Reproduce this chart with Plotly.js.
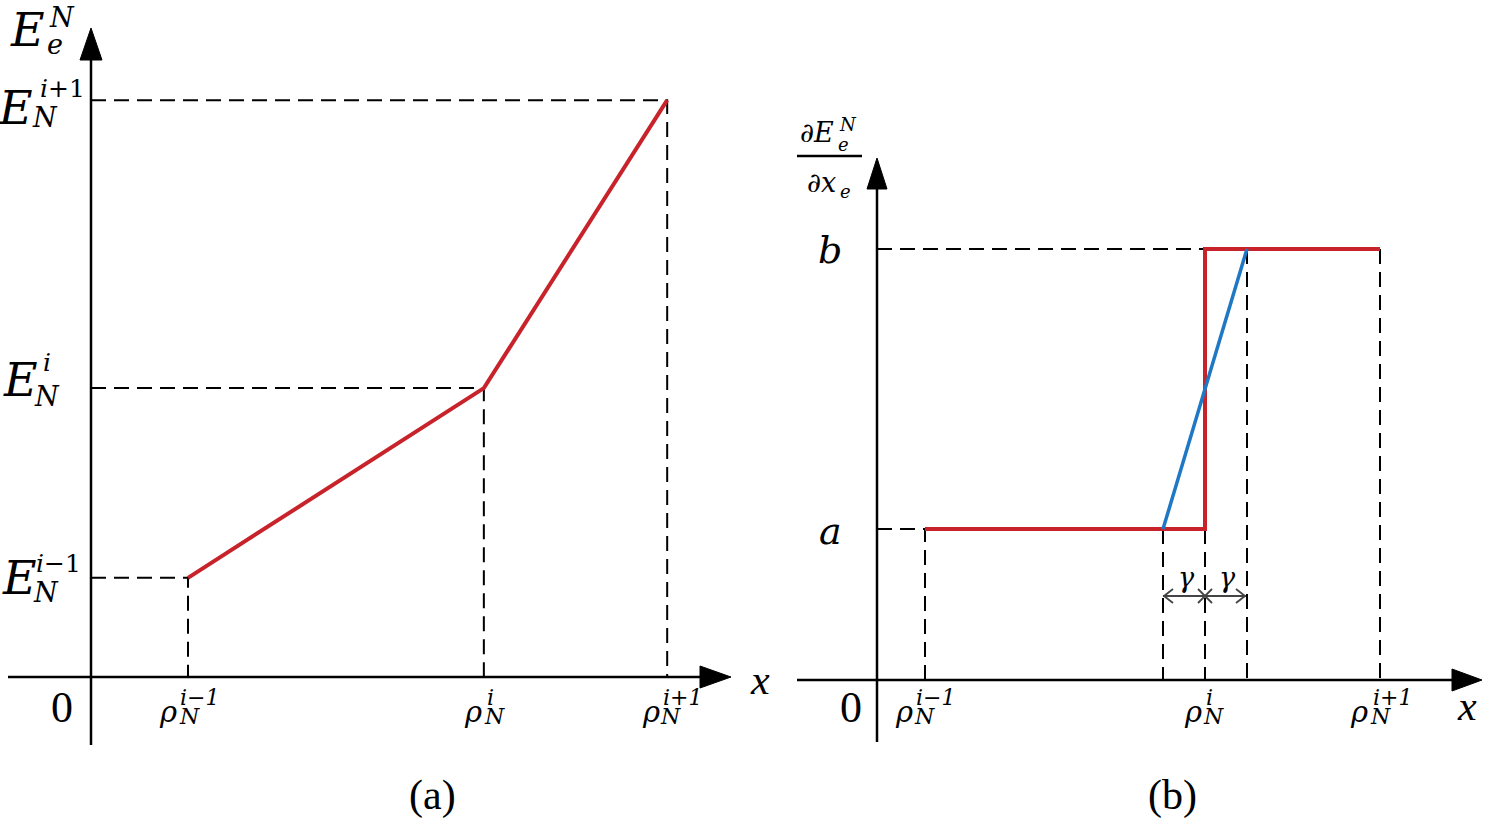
<!DOCTYPE html>
<html>
<head>
<meta charset="utf-8">
<script src="https://cdn.plot.ly/plotly-3.0.1.min.js"></script>
<style>
  html, body { margin: 0; padding: 0; background: #fff; }
  #plot { width: 1487px; height: 823px; }
</style>
</head>
<body>
<div id="plot"></div>
<script>
// ---- panel (a): piecewise linear interpolation of E_e^N ----
var rhoA = [1.0, 4.05, 5.94];          // rho_N^{i-1}, rho_N^i, rho_N^{i+1}
var energyA = [1.03, 3.0, 5.99];       // E_N^{i-1}, E_N^i, E_N^{i+1}

// ---- panel (b): derivative dE/dx, step and smoothed ramp ----
var rhoB = [0.96, 6.56, 10.06];        // rho_N^{i-1}, rho_N^i, rho_N^{i+1}
var slopeLevels = [1.05, 3.0];         // a, b
var gammaB = 0.84;

var W = 1487, H = 823;
var RED = '#c8232b', BLUE = '#1f78c4';
var MATH = '"DejaVu Serif", serif', ROMAN = '"Liberation Serif", serif';
var DASH = {color: '#000', width: 2, dash: '15px,8px'};

function px(x) { return x / W; }
function py(y) { return 1 - y / H; }

var data = [];

function dashed(xs, ys, xa, ya) {
  data.push({x: xs, y: ys, xaxis: xa, yaxis: ya, mode: 'lines', line: DASH, hoverinfo: 'skip'});
}

// dashed guides, panel (a)
for (var i = 0; i < rhoA.length; i++) {
  dashed([0, rhoA[i], rhoA[i]], [energyA[i], energyA[i], 0], 'x', 'y');
}
// red curve (a)
data.push({x: rhoA, y: energyA, xaxis: 'x', yaxis: 'y', mode: 'lines',
  line: {color: RED, width: 4}, hoverinfo: 'skip'});

// dashed guides, panel (b)
var a = slopeLevels[0], b = slopeLevels[1];
dashed([0, rhoB[0], rhoB[0]], [a, a, 0], 'x2', 'y2');
dashed([0, rhoB[1]], [b, b], 'x2', 'y2');
dashed([rhoB[1] - gammaB, rhoB[1] - gammaB], [a, 0], 'x2', 'y2');
dashed([rhoB[1], rhoB[1]], [a, 0], 'x2', 'y2');
dashed([rhoB[1] + gammaB, rhoB[1] + gammaB], [b, 0], 'x2', 'y2');
dashed([rhoB[2], rhoB[2]], [b, 0], 'x2', 'y2');

// red step (b)
data.push({x: [rhoB[0], rhoB[1], rhoB[1], rhoB[2]], y: [a, a, b, b], xaxis: 'x2', yaxis: 'y2',
  mode: 'lines', line: {color: RED, width: 4}, hoverinfo: 'skip'});
// blue ramp (b)
data.push({x: [rhoB[1] - gammaB, rhoB[1] + gammaB], y: [a, b], xaxis: 'x2', yaxis: 'y2',
  mode: 'lines', line: {color: BLUE, width: 3.5}, hoverinfo: 'skip'});

// ---- axes with arrow heads (drawn as shapes) ----
function seg(x0, y0, x1, y1, w, c) {
  return {type: 'line', xref: 'paper', yref: 'paper', x0: px(x0), y0: py(y0), x1: px(x1), y1: py(y1),
    line: {color: c || '#000', width: w || 2.5}};
}
function poly(pts, fill, c, w) {
  var d = pts.map(function (p, k) { return (k ? 'L' : 'M') + px(p[0]) + ',' + py(p[1]); }).join(' ');
  if (fill) d += ' Z';
  return {type: 'path', xref: 'paper', yref: 'paper', path: d,
    fillcolor: fill ? (c || '#000') : 'rgba(0,0,0,0)', line: {color: c || '#000', width: w || 1}};
}

var shapes = [
  // panel (a)
  seg(8, 677, 704, 677), poly([[700, 666], [731, 677], [700, 688]], true),
  seg(91, 745, 91, 56), poly([[80, 60], [91, 28], [102, 60]], true),
  // panel (b)
  seg(797, 680, 1456, 680), poly([[1452, 669], [1482, 680], [1452, 691]], true),
  seg(877, 742, 877, 186), poly([[867, 189], [877, 158], [887, 189]], true),
  // fraction bar
  seg(797, 156, 862, 156, 2.5),
  // gamma dimension arrows
  seg(1163, 596, 1246, 596, 1.8, '#444'),
  poly([[1173, 589], [1164, 596], [1173, 603]], false, '#444', 1.8),
  poly([[1236, 589], [1245, 596], [1236, 603]], false, '#444', 1.8),
  seg(1198, 589, 1212, 603, 1.8, '#444'),
  seg(1198, 603, 1212, 589, 1.8, '#444')
];

// ---- text ----
var ann = [];
function t(x, y, s, size, anchor, fam) {
  ann.push({xref: 'paper', yref: 'paper', x: px(x), y: py(y), text: s, showarrow: false,
    xanchor: anchor || 'center', yanchor: 'middle', font: {family: fam || MATH, size: size, color: '#000'}});
}
function td(xa, xv, dx, y, s, size, anchor) {
  ann.push({xref: xa, yref: 'paper', x: xv, xshift: dx, y: py(y), text: s, showarrow: false,
    xanchor: anchor || 'center', yanchor: 'middle', font: {family: MATH, size: size, color: '#000'}});
}
function rhoLabel(xa, xv, sup, d) {
  td(xa, xv, d[0], 712, '<i>ρ</i>', 29);
  td(xa, xv, d[1], 697, '<i>' + sup + '</i>', 22, 'left');
  td(xa, xv, d[2], 716, '<i>N</i>', 22, 'left');
}

// panel (a) y labels
t(27, 30, '<i>E</i>', 46); t(47, 17, '<i>N</i>', 27, 'left'); t(45, 44, '<i>e</i>', 27, 'left');
t(15, 108, '<i>E</i>', 46); t(38, 89, '<i>i</i>+1', 25, 'left'); t(30, 117, '<i>N</i>', 27, 'left');
t(20, 380, '<i>E</i>', 46); t(41, 362, '<i>i</i>', 25, 'left'); t(32, 396, '<i>N</i>', 27, 'left');
t(19, 578, '<i>E</i>', 46); t(34, 563, '<i>i</i>−1', 25, 'left'); t(31, 592, '<i>N</i>', 27, 'left');
t(62, 707, '0', 44, 'center', ROMAN);
t(760, 680, '<i>x</i>', 42, 'center', ROMAN);
t(432, 795, '(a)', 42, 'center', ROMAN);

rhoLabel('x', rhoA[0], 'i−1', [-20, -10, -11]);
rhoLabel('x', rhoA[1], 'i', [-11, 1, -2]);
rhoLabel('x', rhoA[2], 'i+1', [-16, -6, -9]);

// panel (b) labels
t(817, 133, '∂<i>E</i>', 27); t(837, 124, '<i>N</i>', 18, 'left'); t(836, 144, '<i>e</i>', 18, 'left');
t(821, 182, '∂<i>x</i>', 27); t(838, 191, '<i>e</i>', 18, 'left');
t(830, 250, '<i>b</i>', 38);
t(830, 531, '<i>a</i>', 38);
t(851, 707, '0', 44, 'center', ROMAN);
t(1467, 706, '<i>x</i>', 42, 'center', ROMAN);
t(1172, 795, '(b)', 42, 'center', ROMAN);
t(1186, 577, '<i>γ</i>', 27);
t(1227, 577, '<i>γ</i>', 27);

rhoLabel('x2', rhoB[0], 'i−1', [-21, -11, -13]);
rhoLabel('x2', rhoB[1], 'i', [-12, -1, -4]);
rhoLabel('x2', rhoB[2], 'i+1', [-21, -9, -12]);

var hidden = {visible: false, fixedrange: true, showgrid: false, zeroline: false};
var layout = {
  width: W, height: H,
  margin: {l: 0, r: 0, t: 0, b: 0},
  paper_bgcolor: '#fff', plot_bgcolor: 'rgba(0,0,0,0)',
  showlegend: false,
  xaxis: Object.assign({domain: [0, 760 / W], range: [-91 / 97, 669 / 97]}, hidden),
  yaxis: Object.assign({domain: [0, 1], range: [-146 / 96.3, 677 / 96.3]}, hidden),
  xaxis2: Object.assign({domain: [760 / W, 1], range: [-117 / 50, 610 / 50], anchor: 'y2'}, hidden),
  yaxis2: Object.assign({domain: [0, 1], range: [-143 / 143.7, 680 / 143.7], anchor: 'x2'}, hidden),
  shapes: shapes,
  annotations: ann
};

Plotly.newPlot('plot', data, layout, {staticPlot: true, displayModeBar: false});
</script>
</body>
</html>
